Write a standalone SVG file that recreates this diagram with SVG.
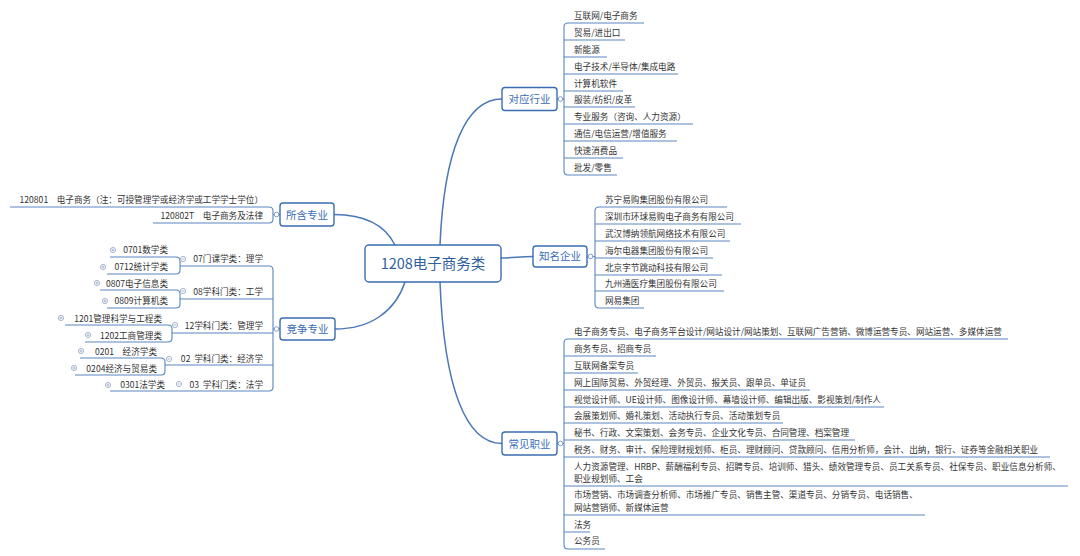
<svg xmlns="http://www.w3.org/2000/svg" xmlns:xlink="http://www.w3.org/1999/xlink" width="1080" height="556" viewBox="0 0 1080 556">
<style>
.ln{fill:none;stroke:#5a86c0;stroke-width:1.1}
.main{fill:none;stroke:#4a78b8;stroke-width:1.5}
.box{fill:#fff;stroke:#3b6cb2;stroke-width:1.4}
.bt{font-family:"Noto Sans CJK SC",sans-serif;font-size:10.5px;fill:#3a6cb4;text-anchor:middle}
.ct{font-family:"Noto Sans CJK SC",sans-serif;font-size:14.5px;fill:#2f5f9f;text-anchor:middle}
.t{font-family:"Noto Sans CJK SC",sans-serif;font-size:8.6px;fill:#333}
.l{text-anchor:end}
.knob{fill:#fff;stroke:#6f92c6;stroke-width:0.9}
.kn{fill:#fff;stroke:#8fa3c4;stroke-width:0.8}
.kl{fill:none;stroke:#8fa3c4;stroke-width:0.8}
</style>
<defs>
<g id="plus"><circle class="kn" r="2.6"/><path class="kl" d="M-1.4,0H1.4M0,-1.4V1.4"/></g>
<g id="minus"><circle class="kn" r="2.6"/><path class="kl" d="M-1.4,0H1.4"/></g>
</defs>
<rect width="1080" height="556" fill="#fff"/>

<g id="connectors">
<path class="main" d="M440,245 C444,150 466,99 502,99"/>
<path class="main" d="M501,258 C515,258 518,256.5 533,256.5"/>
<path class="main" d="M440,282 C444,388 466,443.5 502,443.5"/>
<path class="main" d="M395,245 C385,225 365,214.5 334,214.5"/>
<path class="main" d="M405,282 C395,312 370,329 335,329"/>

<path class="ln" d="M557,99H564"/>
<path class="ln" d="M644,23H568Q564,23 564,27V171Q564,175 568,175H617"/>
<path class="ln" d="M564,40H625M564,57H607M564,74H678M564,91H623M564,107H635M564,124H693M564,141H677M564,158H623"/>

<path class="ln" d="M587,256.5H595"/>
<path class="ln" d="M727,207H599Q595,207 595,211V304Q595,308 599,308H644"/>
<path class="ln" d="M595,224H741M595,241H730M595,258H713M595,275H722M595,291H724"/>

<path class="ln" d="M557,443.5H564"/>
<path class="ln" d="M1008,339H568Q564,339 564,343V545Q564,549 568,549H605"/>
<path class="ln" d="M564,356H656M564,373H638M564,390H810M564,407H884M564,423H783M564,440H855M564,457H1050M564,486H1068M564,515H925M564,532H590"/>

<path class="ln" d="M280,214.5H273"/>
<path class="ln" d="M10,207H269Q273,207 273,211V219Q273,223 269,223H153"/>

<path class="ln" d="M280,329H273"/>
<path class="ln" d="M180,266H269Q273,266 273,270V387Q273,391 269,391H110"/>
<path class="ln" d="M273,299H180M273,333H172M273,365H165"/>
<path class="ln" d="M110,257H176Q180,257 180,261V270Q180,274 176,274H107"/>
<path class="ln" d="M100,290H176Q180,290 180,294V304Q180,308 176,308H107"/>
<path class="ln" d="M65,325H168Q172,325 172,329V338Q172,342 168,342H85"/>
<path class="ln" d="M80,358H161Q165,358 165,362V371Q165,375 161,375H75"/>

<circle class="knob" cx="560.5" cy="99" r="2.3"/>
<circle class="knob" cx="590.5" cy="256.5" r="2.3"/>
<circle class="knob" cx="560.5" cy="443.5" r="2.3"/>
<circle class="knob" cx="276.5" cy="214.5" r="2.3"/>
<circle class="knob" cx="276.5" cy="329" r="2.3"/>
<use href="#minus" x="183" y="259"/>
<use href="#minus" x="183" y="291"/>
<use href="#minus" x="175" y="325"/>
<use href="#minus" x="169" y="359"/>
<use href="#minus" x="179" y="384"/>
<use href="#plus" x="113" y="250"/>
<use href="#plus" x="103" y="267"/>
<use href="#plus" x="97" y="283"/>
<use href="#plus" x="105" y="301"/>
<use href="#plus" x="61" y="318"/>
<use href="#plus" x="88" y="335"/>
<use href="#plus" x="81" y="351"/>
<use href="#plus" x="74" y="368"/>
<use href="#plus" x="108" y="385"/>
</g>

<g id="center">
<rect class="box" x="365" y="245" width="136" height="37" rx="4"/>
<text class="ct" x="433" y="269">1208电子商务类</text>
</g>

<g id="n-industry">
<rect class="box" x="502" y="87.5" width="55" height="23" rx="3"/>
<text class="bt" x="529.5" y="102.5">对应行业</text>
</g>
<g id="n-company">
<rect class="box" x="533" y="246" width="54" height="21" rx="3"/>
<text class="bt" x="560" y="260">知名企业</text>
</g>
<g id="n-career">
<rect class="box" x="502" y="432" width="55" height="23" rx="3"/>
<text class="bt" x="529.5" y="447.5">常见职业</text>
</g>
<g id="n-major">
<rect class="box" x="280" y="203" width="54" height="23" rx="3"/>
<text class="bt" x="307" y="218.5">所含专业</text>
</g>
<g id="n-compete">
<rect class="box" x="280" y="318" width="55" height="22" rx="3"/>
<text class="bt" x="307.5" y="333">竞争专业</text>
</g>

<g id="industries">
<text class="t" x="574" y="18.5">互联网/电子商务</text>
<text class="t" x="574" y="35.5">贸易/进出口</text>
<text class="t" x="574" y="52.5">新能源</text>
<text class="t" x="574" y="69.5">电子技术/半导体/集成电路</text>
<text class="t" x="574" y="86.5">计算机软件</text>
<text class="t" x="574" y="102.5">服装/纺织/皮革</text>
<text class="t" x="574" y="119.5">专业服务（咨询、人力资源）</text>
<text class="t" x="574" y="136.5">通信/电信运营/增值服务</text>
<text class="t" x="574" y="153.5">快速消费品</text>
<text class="t" x="574" y="170.5">批发/零售</text>
</g>

<g id="companies">
<text class="t" x="605" y="202.5">苏宁易购集团股份有限公司</text>
<text class="t" x="605" y="219.5">深圳市环球易购电子商务有限公司</text>
<text class="t" x="605" y="236.5">武汉博纳领航网络技术有限公司</text>
<text class="t" x="605" y="253.5">海尔电器集团股份有限公司</text>
<text class="t" x="605" y="270.5">北京字节跳动科技有限公司</text>
<text class="t" x="605" y="286.5">九州通医疗集团股份有限公司</text>
<text class="t" x="605" y="303.5">网易集团</text>
</g>

<g id="careers">
<text class="t" x="574" y="335">电子商务专员、电子商务平台设计/网站设计/网站策划、互联网广告营销、微博运营专员、网站运营、多媒体运营</text>
<text class="t" x="574" y="352">商务专员、招商专员</text>
<text class="t" x="574" y="369">互联网备案专员</text>
<text class="t" x="574" y="386">网上国际贸易、外贸经理、外贸员、报关员、跟单员、单证员</text>
<text class="t" x="574" y="403">视觉设计师、UE设计师、图像设计师、幕墙设计师、编辑出版、影视策划/制作人</text>
<text class="t" x="574" y="419">会展策划师、婚礼策划、活动执行专员、活动策划专员</text>
<text class="t" x="574" y="436">秘书、行政、文案策划、会务专员、企业文化专员、合同管理、档案管理</text>
<text class="t" x="574" y="453">税务、财务、审计、保险理财规划师、柜员、理财顾问、贷款顾问、信用分析师，会计、出纳，银行、证券等金融相关职业</text>
<text class="t" x="574" y="470">人力资源管理、HRBP、薪酬福利专员、招聘专员、培训师、猎头、绩效管理专员、员工关系专员、社保专员、职业信息分析师、</text>
<text class="t" x="574" y="482">职业规划师、工会</text>
<text class="t" x="574" y="498">市场营销、市场调查分析师、市场推广专员、销售主管、渠道专员、分销专员、电话销售、</text>
<text class="t" x="574" y="511">网站营销师、新媒体运营</text>
<text class="t" x="574" y="528">法务</text>
<text class="t" x="574" y="544">公务员</text>
</g>

<g id="majors">
<text class="t l" x="263" y="202.5">120801　电子商务（注：可授管理学或经济学或工学学士学位）</text>
<text class="t l" x="263" y="219">120802T　电子商务及法律</text>
</g>

<g id="competing">
<text class="t l" x="263" y="262">07门课学类：理学</text>
<text class="t l" x="263" y="294.5">08学科门类：工学</text>
<text class="t l" x="263" y="328.5">12学科门类：管理学</text>
<text class="t l" x="263" y="362" xml:space="preserve">02  学科门类：经济学</text>
<text class="t l" x="263" y="387.5" xml:space="preserve">03  学科门类：法学</text>
<text class="t l" x="168" y="253">0701数学类</text>
<text class="t l" x="168" y="270">0712统计学类</text>
<text class="t l" x="168" y="286.5">0807电子信息类</text>
<text class="t l" x="168" y="304">0809计算机类</text>
<text class="t l" x="162" y="321.5">1201管理科学与工程类</text>
<text class="t l" x="162" y="338.5">1202工商管理类</text>
<text class="t l" x="157" y="354.5">0201　经济学类</text>
<text class="t l" x="157" y="371.5">0204经济与贸易类</text>
<text class="t l" x="165" y="388">0301法学类</text>
</g>
</svg>
